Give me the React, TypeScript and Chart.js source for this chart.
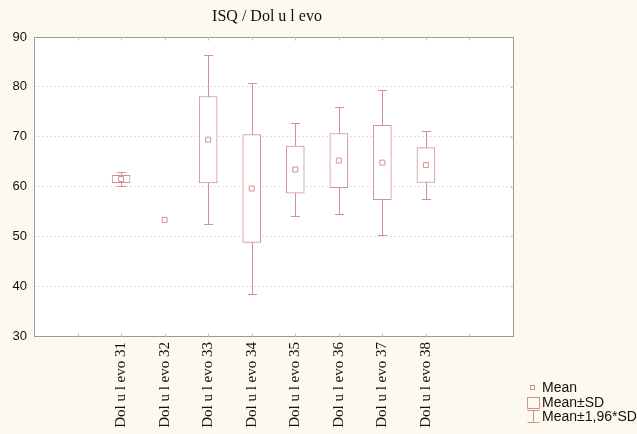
import React, { useEffect, useRef } from "react";
import { Chart, registerables } from "chart.js";

Chart.register(...registerables);

const categories = [
  "Dol u l evo 31",
  "Dol u l evo 32",
  "Dol u l evo 33",
  "Dol u l evo 34",
  "Dol u l evo 35",
  "Dol u l evo 36",
  "Dol u l evo 37",
  "Dol u l evo 38",
];
const means = [61.5, 53.3, 69.4, 59.6, 63.4, 65.2, 64.8, 64.3];
const sds = [0.73, 0, 8.66, 10.8, 4.73, 5.44, 7.45, 3.5];
const yTicks = [30, 40, 50, 60, 70, 80, 90];
const legendLabels = ["Mean", "Mean±SD", "Mean±1,96*SD"];

const MARK = "rgb(212,145,145)";
const BG = "#fcf9ee";
const FIRST_X = 2; // position of first category on the x scale
const X_MAX = 11;

export default function App() {
  const ref = useRef<HTMLCanvasElement | null>(null);

  useEffect(() => {
    const canvas = ref.current;
    if (!canvas) return;

    const boxData = means
      .map((m, i) => ({ x: i + FIRST_X, y: [m - sds[i], m + sds[i]], sd: sds[i] }))
      .filter((d) => d.sd > 0)
      .map((d) => ({ x: d.x, y: d.y }));
    const meanData = means.map((m, i) => ({ x: i + FIRST_X, y: m }));

    const decor = {
      id: "decor",
      beforeDraw(chart: any) {
        const { ctx, chartArea } = chart;
        ctx.save();
        ctx.fillStyle = BG;
        ctx.fillRect(0, 0, chart.width, chart.height);
        ctx.fillStyle = "#ffffff";
        ctx.fillRect(chartArea.left, chartArea.top, chartArea.right - chartArea.left, chartArea.bottom - chartArea.top);
        ctx.restore();
      },
      beforeDatasetsDraw(chart: any) {
        const { ctx } = chart;
        const xs = chart.scales.x;
        const ys = chart.scales.y;
        ctx.save();
        ctx.strokeStyle = MARK;
        ctx.lineWidth = 1;
        means.forEach((m, i) => {
          const sd = sds[i];
          if (sd <= 0) return;
          const x = Math.round(xs.getPixelForValue(i + FIRST_X)) + 0.5;
          const yHi = Math.round(ys.getPixelForValue(m + 1.96 * sd)) + 0.5;
          const yLo = Math.round(ys.getPixelForValue(m - 1.96 * sd)) + 0.5;
          ctx.beginPath();
          ctx.moveTo(x, yHi);
          ctx.lineTo(x, yLo);
          ctx.moveTo(x - 4.5, yHi);
          ctx.lineTo(x + 4.5, yHi);
          ctx.moveTo(x - 4.5, yLo);
          ctx.lineTo(x + 4.5, yLo);
          ctx.stroke();
        });
        ctx.restore();
      },
      afterDraw(chart: any) {
        const { ctx, chartArea } = chart;
        const xs = chart.scales.x;
        const ys = chart.scales.y;
        const l = Math.round(chartArea.left) + 0.5;
        const r = Math.round(chartArea.right) + 0.5;
        const t = Math.round(chartArea.top) + 0.5;
        const b = Math.round(chartArea.bottom) + 0.5;
        ctx.save();
        ctx.strokeStyle = "#9a9a9a";
        ctx.lineWidth = 1;
        ctx.strokeRect(l, t, r - l, b - t);
        ctx.strokeStyle = "#c4c4c4";
        ctx.beginPath();
        for (let v = 1; v < X_MAX; v++) {
          const x = Math.round(xs.getPixelForValue(v)) + 0.5;
          ctx.moveTo(x, b);
          ctx.lineTo(x, b - 3);
          ctx.moveTo(x, t);
          ctx.lineTo(x, t + 3);
        }
        yTicks.slice(1, -1).forEach((v) => {
          const y = Math.round(ys.getPixelForValue(v)) + 0.5;
          ctx.moveTo(r, y);
          ctx.lineTo(r - 3, y);
        });
        ctx.stroke();

        // title
        ctx.fillStyle = "#111";
        ctx.font = "16px 'Liberation Serif'";
        ctx.textAlign = "center";
        ctx.textBaseline = "middle";
        ctx.fillText("ISQ / Dol u l evo", 267, 17);

        // legend
        ctx.strokeStyle = MARK;
        ctx.strokeRect(530.5, 385.5, 4, 4);
        ctx.strokeRect(527.5, 397.5, 12, 11);
        ctx.beginPath();
        ctx.moveTo(533.5, 410.5);
        ctx.lineTo(533.5, 422.5);
        ctx.moveTo(527.5, 410.5);
        ctx.lineTo(539.5, 410.5);
        ctx.moveTo(527.5, 422.5);
        ctx.lineTo(539.5, 422.5);
        ctx.stroke();
        ctx.fillStyle = "#111";
        ctx.font = "14px 'Liberation Sans'";
        ctx.textAlign = "left";
        ctx.textBaseline = "middle";
        const ly = [388, 403, 417];
        legendLabels.forEach((s, i) => ctx.fillText(s, 542, ly[i]));
        ctx.restore();
      },
    };

    const chart = new Chart(canvas, {
      type: "bar",
      data: {
        datasets: [
          {
            type: "scatter" as any,
            data: meanData,
            pointStyle: "rect",
            pointRadius: 3.5,
            pointBackgroundColor: "#ffffff",
            pointBorderColor: MARK,
            pointBorderWidth: 1,
            showLine: false,
            order: 0,
          } as any,
          {
            type: "bar",
            data: boxData as any,
            backgroundColor: "#ffffff",
            borderColor: MARK,
            borderWidth: 1,
            borderSkipped: false,
            barThickness: 18,
            order: 1,
          } as any,
        ],
      },
      options: {
        responsive: false,
        animation: false,
        devicePixelRatio: 1,
        layout: { padding: { top: 37, right: 124, left: 0, bottom: 0 } },
        plugins: {
          legend: { display: false },
          tooltip: { enabled: false },
          title: { display: false },
        },
        scales: {
          x: {
            type: "linear",
            min: 0,
            max: X_MAX,
            offset: false,
            border: { display: false },
            grid: { display: false, drawTicks: false },
            afterBuildTicks: (scale: any) => {
              const t = [];
              for (let v = 0; v <= X_MAX; v++) t.push({ value: v });
              scale.ticks = t;
            },
            afterFit: (scale: any) => {
              scale.height = 98;
            },
            ticks: {
              autoSkip: false,
              minRotation: 90,
              maxRotation: 90,
              padding: 6,
              color: "#111",
              font: { family: "'Liberation Serif'", size: 15 },
              callback: (v: any) => {
                const i = Number(v) - FIRST_X;
                return i >= 0 && i < categories.length ? categories[i] : "";
              },
            },
          },
          y: {
            type: "linear",
            min: 30,
            max: 90,
            border: { display: false, dash: [2, 2] },
            afterBuildTicks: (scale: any) => {
              scale.ticks = yTicks.map((v) => ({ value: v }));
            },
            afterFit: (scale: any) => {
              scale.width = 34;
            },
            grid: {
              drawTicks: false,
              color: (c: any) => (c.tick && (c.tick.value === 30 || c.tick.value === 90) ? "rgba(0,0,0,0)" : "#dedede"),
              lineWidth: 1,
            } as any,
            ticks: {
              padding: 7,
              color: "#111",
              font: { family: "'Liberation Sans'", size: 13 },
            },
          },
        },
      } as any,
      plugins: [decor],
    });

    return () => chart.destroy();
  }, []);

  return (
    <div style={{ position: "absolute", left: 0, top: 0, width: 637, height: 434, background: BG }}>
      <canvas ref={ref} width={637} height={434} style={{ display: "block", width: 637, height: 434 }} />
    </div>
  );
}
